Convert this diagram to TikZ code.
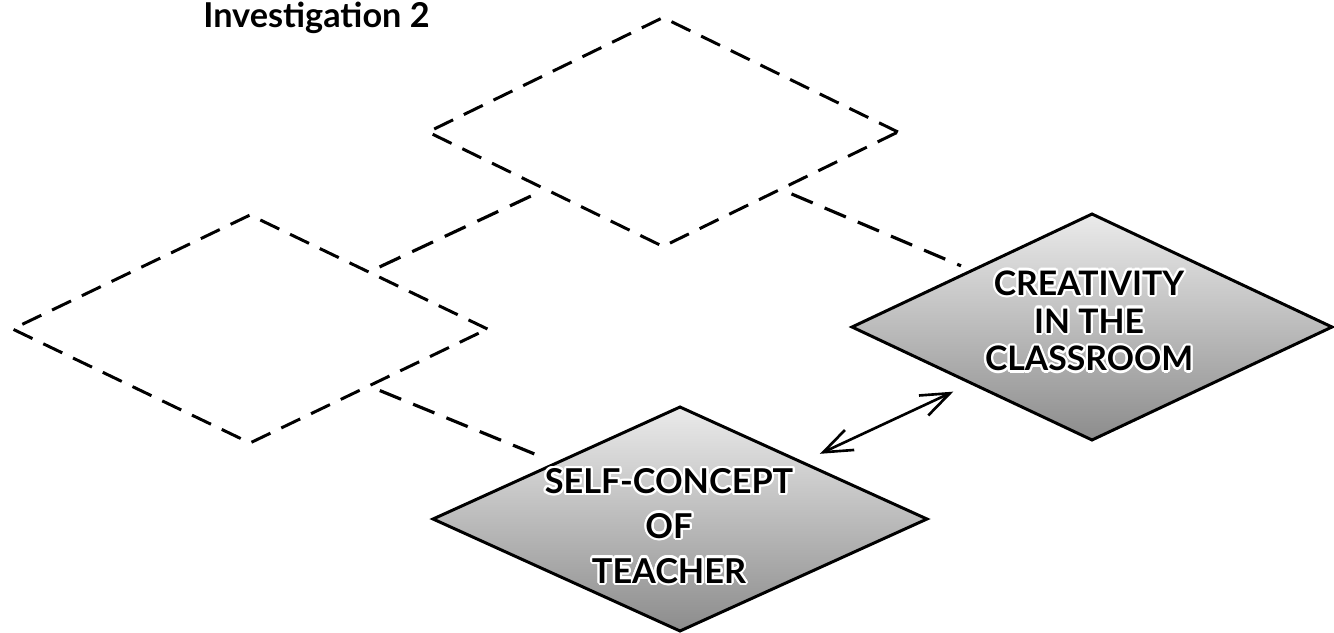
\documentclass[tikz,border=0pt]{standalone}
\usepackage{fontspec}
\setmainfont{Lato}
\usepackage{contour}
\contourlength{1.3pt}
\usetikzlibrary{shapes.geometric,arrows.meta}
\begin{document}
\begin{tikzpicture}[x=0.02cm,y=-0.02cm,
  basedia/.style={diamond, inner sep=0pt, outer sep=0pt, line width=1.7pt, line join=miter},
  ghostdia/.style={basedia, draw, dash pattern=on 0.42cm off 0.24cm},
  realdia/.style={basedia, draw, top color=black!8, bottom color=black!45},
  dashlink/.style={line width=1.8pt, dash pattern=on 0.46cm off 0.26cm, shorten <=0.24cm, shorten >=0.24cm},
  biarrow/.style={line width=1.5pt, {Straight Barb[length=0.58cm,width=0.44cm]}-{Straight Barb[length=0.58cm,width=0.44cm]}, shorten <=0.4cm, shorten >=0.4cm},
  lbl/.style={align=center, inner sep=0pt, text=black}]
\useasboundingbox (0,0) rectangle (1334,632);

\node[anchor=base west, inner sep=0pt, font=\bfseries\fontsize{19.5}{22}\selectfont] (title) at (203,28) {Investigation 2};

\node[ghostdia, minimum width=9.4cm, minimum height=4.58cm] (T) at (663,132) {};
\node[ghostdia, minimum width=9.5cm, minimum height=4.56cm] (L) at (250,329) {};
\node[realdia, minimum width=9.6cm, minimum height=4.52cm] (R) at (1092,327) {};
\node[realdia, minimum width=9.88cm, minimum height=4.48cm] (B) at (680,519) {};

\node[lbl, font=\bfseries\fontsize{19.2}{21.5}\selectfont] (Rt) at (1089,322)
  {\contour{white}{CREATIVITY}\\\contour{white}{IN THE}\\\contour{white}{CLASSROOM}};
\node[lbl, font=\bfseries\fontsize{19.5}{25.5}\selectfont] (Bt) at (669,527)
  {\contour{white}{SELF-CONCEPT}\\\contour{white}{OF}\\\contour{white}{TEACHER}};

\draw[dashlink] (L.north east) -- (T.south west);
\draw[dashlink] (T.south east) -- (R.north west);
\draw[dashlink] (L.south east) -- (B.north west);
\draw[biarrow] (B) -- (R);
\end{tikzpicture}
\end{document}
